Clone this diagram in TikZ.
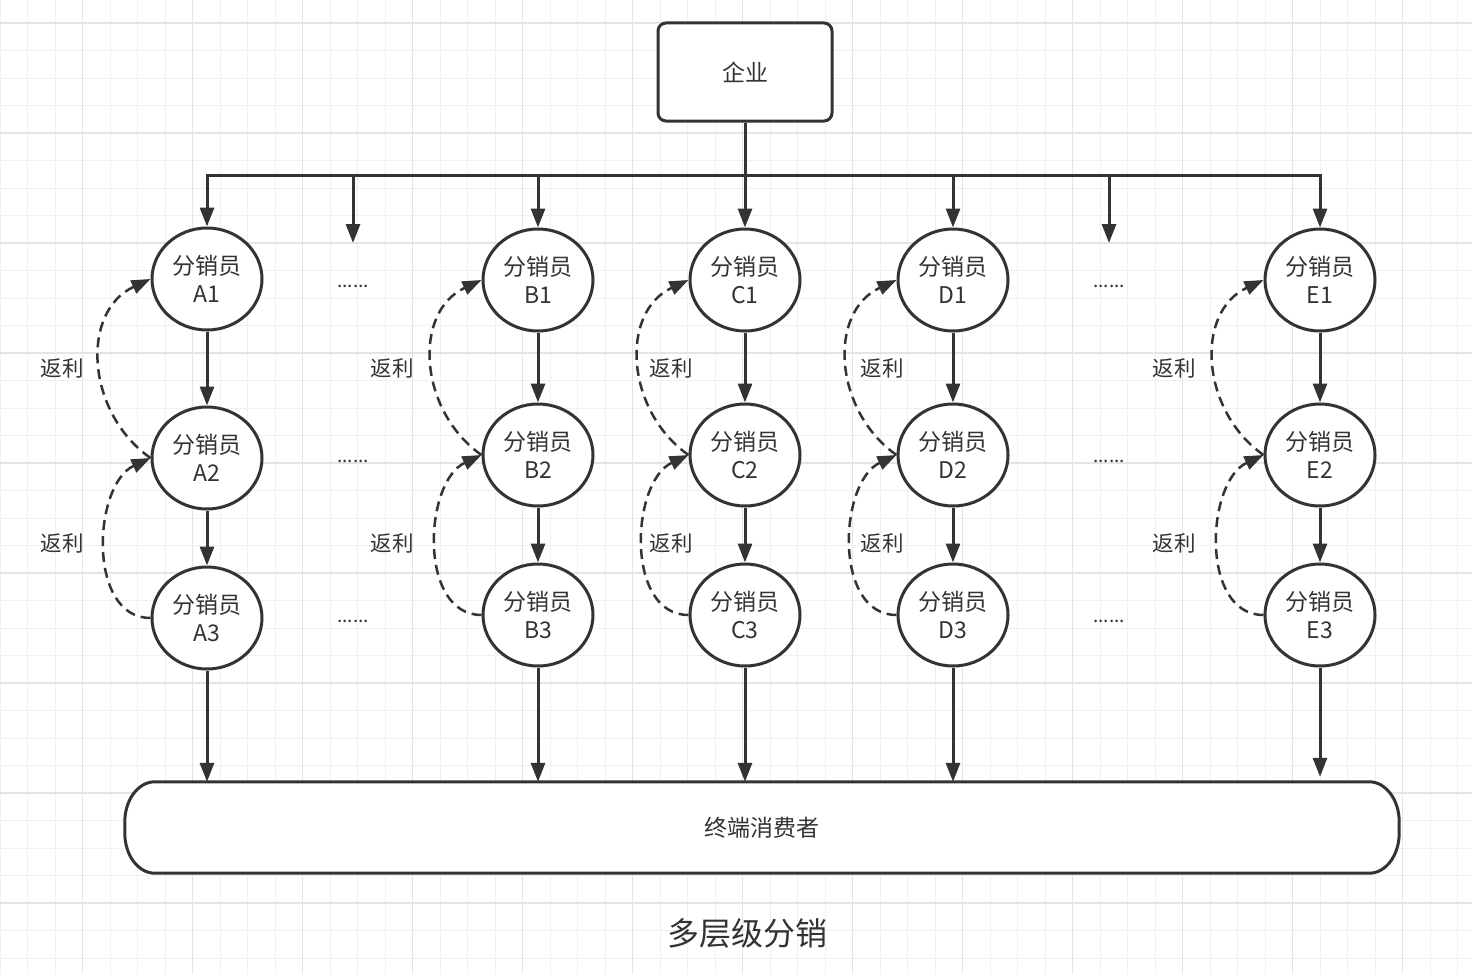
\documentclass[tikz,border=0pt]{standalone}
\usepackage{fontspec}
\setmainfont{Noto Sans CJK SC}
\usetikzlibrary{arrows.meta,shapes.geometric}
\definecolor{ink}{HTML}{333333}
\definecolor{gridminor}{HTML}{F0F0F0}
\definecolor{gridmajor}{HTML}{E4E4E4}
\pgfdeclarelayer{gridlayer}
\pgfdeclarelayer{shapelayer}
\pgfsetlayers{gridlayer,shapelayer,main}
\begin{document}
\begin{tikzpicture}[x=1pt,y=1pt,
  dist/.style={ellipse,draw=ink,line width=3pt,fill=white,minimum width=110pt,minimum height=102pt,inner sep=0pt,align=center,text=ink,font=\fontsize{23}{28}\selectfont},
  topbox/.style={draw=ink,line width=3pt,rounded corners=8pt,fill=white,minimum width=174pt,minimum height=98pt,text=ink,font=\fontsize{23}{26}\selectfont},
  flow/.style={draw=ink,line width=3pt,-{Triangle[length=19pt,width=14pt]}},
  rebate/.style={draw=ink,line width=2.5pt,dash pattern=on 10pt off 6pt,-{Triangle[length=19pt,width=14pt]}},
  lbl/.style={text=ink,font=\fontsize{21.5}{24}\selectfont,inner sep=0pt},
  dotstyle/.style={text=ink,font=\fontsize{19}{20}\selectfont,inner sep=0pt}]
\useasboundingbox (0,0) rectangle (1472,-974);
\begin{pgfonlayer}{gridlayer}
  \fill[white] (0,0) rectangle (1472,-974);
  \foreach \i in {0,...,53} {\draw[gridminor,line width=1pt] (0.2+27.5*\i,0) -- ++(0,-974);}
  \foreach \i in {1,...,36} {\draw[gridminor,line width=1pt] (0,4.5-27.5*\i) -- ++(1472,0);}
  \foreach \i in {0,...,12} {\draw[gridmajor,line width=1.2pt] (82.7+110*\i,0) -- ++(0,-974);}
  \foreach \i in {0,...,8} {\draw[gridmajor,line width=1.2pt] (0,-23-110*\i) -- ++(1472,0);}
\end{pgfonlayer}

\node[topbox] (qy) at (745,-72) {企业};
\coordinate (bus) at (745,-175);

\node[minimum width=1274pt,minimum height=91pt,inner sep=0pt,text=ink,font=\fontsize{23}{26}\selectfont] (cons) at (762,-827.5) {终端消费者};
\begin{pgfonlayer}{shapelayer}
\draw[draw=ink,line width=3pt,fill=white]
  ([xshift=30pt]cons.north west) -- ([xshift=-30pt]cons.north east)
  arc[start angle=90,end angle=0,x radius=30pt,y radius=40pt]
  -- ([yshift=40pt]cons.south east)
  arc[start angle=0,end angle=-90,x radius=30pt,y radius=40pt]
  -- ([xshift=30pt]cons.south west)
  arc[start angle=270,end angle=180,x radius=30pt,y radius=40pt]
  -- ([yshift=-40pt]cons.north west)
  arc[start angle=180,end angle=90,x radius=30pt,y radius=40pt] -- cycle;
\end{pgfonlayer}

\foreach \c/\x/\ya/\yb/\yc/\off/\gap in {A/207/279/458/618/-145/0, B/538/280/455/615/-146/0, C/745/280/455/615/-74/0, D/953/280/455/615/-71/0, E/1320/280/455/615/-146/5} {
  \node[dist] (\c1) at (\x,-\ya) {分销员\\\c1};
  \node[dist] (\c2) at (\x,-\yb) {分销员\\\c2};
  \node[dist] (\c3) at (\x,-\yc) {分销员\\\c3};
  \draw[flow] (qy.south) -- (bus) -| (\c1.north);
  \draw[flow] (\c1) -- (\c2);
  \draw[flow] (\c2) -- (\c3);
  \draw[flow,shorten >=\gap pt] (\c3.south) -- (\c3.south |- cons.north);
  \draw[rebate] (\c2.west) to[out=145,in=205,looseness=1.12] (\c1.west);
  \draw[rebate] (\c3.west) to[out=180,in=205,looseness=1.02] (\c2.west);
  \node[lbl] (r\c1) at (\x+\off,-368) {返利};
  \node[lbl] (r\c2) at (\x+\off,-543) {返利};
}

\foreach \n/\x in {L/353, R/1109} {
  \coordinate (d\n) at (\x,-243);
  \draw[flow] (qy.south) -- (bus) -| (d\n);
  \node[dotstyle] (dots\n1) at (\x,-286) {......};
  \node[dotstyle] (dots\n2) at (\x,-461) {......};
  \node[dotstyle] (dots\n3) at (\x,-621) {......};
}

\node[text=ink,font=\fontsize{32}{36}\selectfont] (title) at (747,-933) {多层级分销};
\end{tikzpicture}
\end{document}
